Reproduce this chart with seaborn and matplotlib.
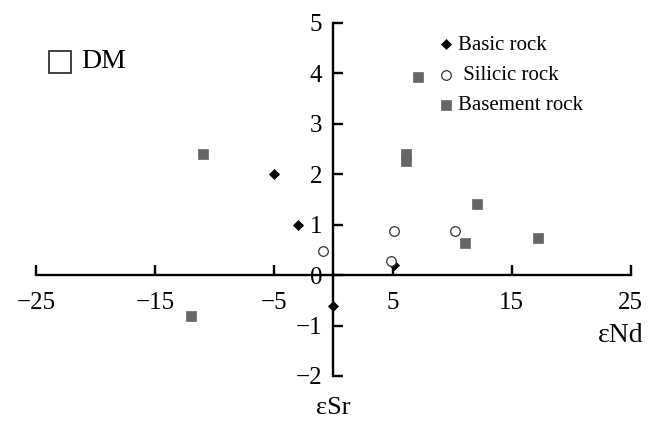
import matplotlib
matplotlib.use("Agg")
import matplotlib.pyplot as plt
import seaborn as sns
import pandas as pd

# ---- data ----
basic_end = [-5.0, -3.0, 0.0, 5.1]
basic_esr = [2.0, 1.0, -0.62, 0.2]

silicic_end = [-0.9, 5.1, 4.85, 10.2]
silicic_esr = [0.48, 0.88, 0.28, 0.88]

basement_end = [-11.0, -12.0, 7.1, 6.1, 6.1, 12.1, 11.1, 17.2]
basement_esr = [2.4, -0.82, 3.92, 2.39, 2.25, 1.4, 0.63, 0.74]

xticks = [-25, -15, -5, 5, 15, 25]
yticks = [-2, -1, 0, 1, 2, 3, 4, 5]

sns.set_theme(style="white")
plt.rcParams['font.family'] = ['Liberation Serif', 'DejaVu Serif']

fig = plt.figure(figsize=(6.53, 4.21), dpi=100)
ax = fig.add_axes([36/653, 1-376/421, 594.7/653, 353.3/421])

df_b = pd.DataFrame({"eNd": basic_end, "eSr": basic_esr})
df_s = pd.DataFrame({"eNd": silicic_end, "eSr": silicic_esr})
df_m = pd.DataFrame({"eNd": basement_end, "eSr": basement_esr})

sns.scatterplot(data=df_b, x="eNd", y="eSr", marker="D", s=26, color="black",
                edgecolor="black", linewidth=0.5, label="Basic rock", ax=ax, zorder=3)
sns.scatterplot(data=df_s, x="eNd", y="eSr", marker="o", s=48, facecolor="white",
                edgecolor="#333333", linewidth=0.9, label=" Silicic rock", ax=ax, zorder=3)
sns.scatterplot(data=df_m, x="eNd", y="eSr", marker="s", s=48, color="#666666",
                edgecolor="#666666", linewidth=0.5, label="Basement rock", ax=ax, zorder=3)

ax.set_xlim(-25, 25)
ax.set_ylim(-2, 5)
ax.set_xlabel("")
ax.set_ylabel("")

for side in ["top", "right"]:
    ax.spines[side].set_visible(False)
ax.spines["left"].set_position(("data", 0))
ax.spines["bottom"].set_position(("data", 0))
for side in ["left", "bottom"]:
    ax.spines[side].set_linewidth(1.7)
    ax.spines[side].set_color("black")

ax.set_xticks(xticks)
ax.set_xticklabels([f"{t}".replace("-", "\u2212") for t in xticks])
ax.set_yticks(yticks)
ax.set_yticklabels([f"{t}".replace("-", "\u2212") for t in yticks])
ax.tick_params(axis="x", direction="in", length=7, width=1.7, pad=12,
               labelsize=18, colors="black", bottom=True)
ax.tick_params(axis="y", direction="in", length=7, width=1.7, pad=8,
               labelsize=18, colors="black", left=True)

ax.text(24.15, -1.2, "\u03b5Nd", fontsize=20, ha="center", va="center", color="black")
ax.text(0, -2.745, "\u03b5Sr", fontsize=19, ha="center", va="baseline", color="black",
        clip_on=False)

# DM annotation
ax.plot([0.040], [0.889], marker="s", markersize=16, markerfacecolor="white",
        markeredgecolor="#333333", markeredgewidth=1.3, transform=ax.transAxes,
        clip_on=False, linestyle="none")
ax.text(0.076, 0.889, "DM", fontsize=20, ha="left", va="center",
        transform=ax.transAxes, color="black")

leg = ax.legend(loc="upper left", bbox_to_anchor=(441/653, 1-35/421),
                bbox_transform=fig.transFigure, frameon=False, fontsize=15,
                handlelength=0.5, handletextpad=0.3, labelspacing=0.52,
                borderaxespad=0, borderpad=0)
for t in leg.get_texts():
    t.set_color("black")

fig.savefig("out.png", dpi=100)
